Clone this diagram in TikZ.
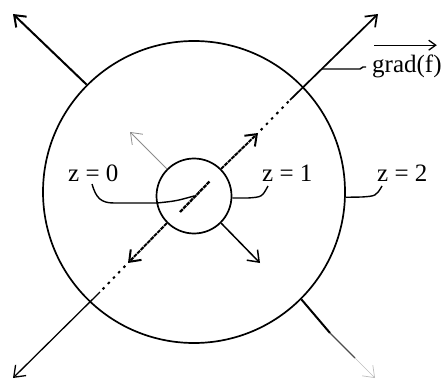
\documentclass[tikz,border=0pt]{standalone}
\usepackage{fontspec}
\setmainfont{Liberation Serif}
\usepackage{tikz}
\usetikzlibrary{arrows.meta,calc}
\usepackage{xcolor}
\definecolor{inkgray}{HTML}{8C8C8C}
\definecolor{fadegray}{HTML}{BDBDBD}

\begin{document}
\begin{tikzpicture}[x=1pt,y=-1pt,every node/.style={font=\fontsize{25}{29}\selectfont,inner sep=0pt},>={Straight Barb[length=10pt,width=15pt]}]
\useasboundingbox (0,0) rectangle (446,379);
\node[draw,circle,line width=1.7pt,minimum size=302pt] (outer) at (194,192) {};
\node[draw,circle,line width=1.7pt,minimum size=75pt] (inner) at (194,196) {};
% arrow tips and breaks on the diagonal
\coordinate (tipUL) at (13,14);
\coordinate (tipUR) at (378,14);
\coordinate (tipLL) at (13,378);
\coordinate (tipLR) at (375,378);
\coordinate (headNE) at (258,133);
\coordinate (headSW) at (128,263);
\coordinate (headNW) at (130,132);
\coordinate (headSE) at (260,263);
\coordinate (ur0) at (290,100);
\coordinate (ll0) at (100,292);
\coordinate (lr1) at (330,333);
\coordinate (lr2) at (355,358);
% outer arrows
\draw[->,line width=2pt] (outer.135)--(tipUL);
\draw[->,line width=1.7pt] (ur0)--(tipUR);
\draw[->,line width=1.3pt] (ll0)--(tipLL);
\draw[line width=2pt] (outer.-45)--(lr1);
\draw[line width=1.2pt,black!70] (lr1)--(lr2);
\draw[->,fadegray,line width=0.7pt] (lr2)--(tipLR);
% inner arrows
\draw[->,line width=2pt,dash pattern=on 4pt off 0.8pt] (inner.45)--(headNE);
\draw[->,line width=2pt,dash pattern=on 4pt off 0.8pt] (inner.225)--(headSW);
\draw[->,inkgray,line width=0.8pt] (inner.135)--(headNW);
\draw[->,line width=1.5pt] (inner.-45)--(headSE);
% broken diagonal
\draw[line width=2.3pt,dash pattern=on 4pt off 0.8pt] (180,212)--(210,181);
\foreach \x/\y in {headNE/ur0,headSW/ll0}{\draw[line width=2pt,dash pattern=on 2.5pt off 5pt,shorten <=4pt] (\x)--(\y);}
% labels
\node[anchor=base west] (z0) at (68,182) {z = 0};
\node[anchor=base west] (z1) at (262,182) {z = 1};
\node[anchor=base west] (z2) at (377,182) {z = 2};
\node[anchor=base west] (grad) at (372,73) {grad(f)};
\draw[->,line width=1.3pt,>={Straight Barb[length=7pt,width=10pt]}] ([xshift=2pt,yshift=10pt]grad.north west)--([xshift=-5pt,yshift=10pt]grad.north east);
% leaders
\coordinate (g0) at (322,69);
\draw[line width=1.4pt] (g0)--(360,69)--(363,67)--(366,67);
\draw[line width=1.4pt] (92,184) .. controls (96,198) and (101,203) .. (114,203) -- (157,203) .. controls (176,201) .. (inner.center);
\draw[line width=1.4pt] ([yshift=-2pt]inner.east) -- (248,198) .. controls (262,197) .. (268,186);
\draw[line width=1.4pt] (outer.-2) -- (362,197) .. controls (376,196) .. (382,186);
\end{tikzpicture}
\end{document}
